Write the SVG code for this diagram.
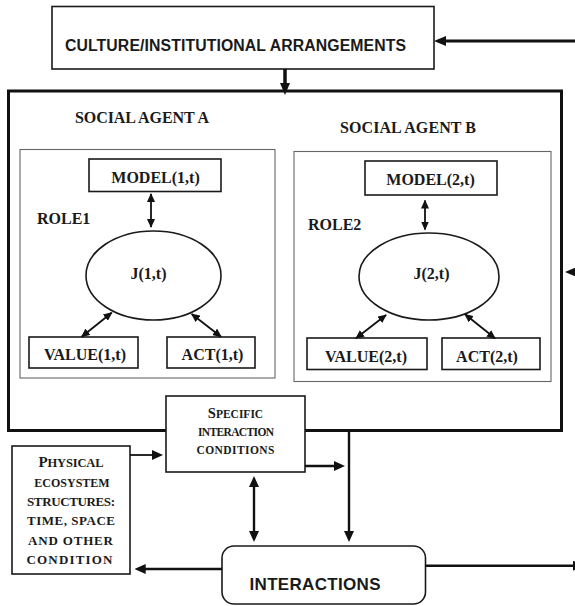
<svg xmlns="http://www.w3.org/2000/svg" width="575" height="606" viewBox="0 0 575 606">
  <style>
    .box { fill: #fff; stroke: #1a1a1a; stroke-width: 1.6; }
    .inner { fill: none; stroke: #666; stroke-width: 1.1; }
    .ell { fill: #fff; stroke: #1a1a1a; stroke-width: 1.6; }
    .serif { font-family: "Liberation Serif", "Times New Roman", serif; font-weight: bold; fill: #1a1a1a; }
    .sans { font-family: "Liberation Sans", Arial, sans-serif; font-weight: bold; fill: #1a1a1a; }
    .lbl { font-size: 16px; }
    .sc { font-size: 13px; }
    .wire { fill: none; stroke: #111; }
    .thin { stroke-width: 1.8; }
    .mid { stroke-width: 2.4; }
    .thick { stroke-width: 3; }
  </style>
  <defs>
    <marker id="big" viewBox="0 0 12 10" markerWidth="12" markerHeight="10" refX="8" refY="5" orient="auto-start-reverse" markerUnits="userSpaceOnUse">
      <path d="M0,0 L12,5 L0,10 z" fill="#111"/>
    </marker>
    <marker id="med" viewBox="0 0 11 10" markerWidth="11" markerHeight="10" refX="7" refY="5" orient="auto-start-reverse" markerUnits="userSpaceOnUse">
      <path d="M0,0 L11,5 L0,10 z" fill="#111"/>
    </marker>
    <marker id="small" viewBox="0 0 9 8" markerWidth="9" markerHeight="8" refX="8" refY="4" orient="auto-start-reverse" markerUnits="userSpaceOnUse">
      <path d="M0,0 L9,4 L0,8 z" fill="#111"/>
    </marker>
  </defs>

  <!-- outer frame holding both social agents -->
  <g id="agents-frame">
    <rect x="8.5" y="91" width="553" height="339.5" fill="none" stroke="#111" stroke-width="3"/>
  </g>

  <g id="culture">
    <rect class="box" x="52" y="6.5" width="382" height="62.5"/>
    <text class="sans" x="65" y="50.5" font-size="15.8" textLength="341">CULTURE/INSTITUTIONAL ARRANGEMENTS</text>
  </g>

  <g id="agent-a">
    <text class="serif lbl" x="75" y="123.3" textLength="134">SOCIAL AGENT A</text>
    <rect class="inner" x="20" y="149.5" width="255" height="228.5"/>
    <text class="serif lbl" x="37" y="223.5">ROLE1</text>
  </g>
  <g id="model-1">
    <rect class="box" x="89" y="159" width="132" height="32.5"/>
    <text class="serif lbl" x="155.5" y="183" text-anchor="middle">MODEL(1,t)</text>
  </g>
  <g id="j-1">
    <ellipse class="ell" cx="153.5" cy="275.5" rx="67.5" ry="44.5"/>
    <text class="serif lbl" x="148.5" y="278.5" text-anchor="middle">J(1,t)</text>
  </g>
  <g id="value-1">
    <rect class="box" x="29" y="337" width="109" height="31"/>
    <text class="serif lbl" x="85" y="360" text-anchor="middle">VALUE(1,t)</text>
  </g>
  <g id="act-1">
    <rect class="box" x="167" y="337" width="88" height="31"/>
    <text class="serif lbl" x="212.5" y="360" text-anchor="middle">ACT(1,t)</text>
  </g>

  <g id="agent-b">
    <text class="serif lbl" x="340" y="132.7" textLength="136">SOCIAL AGENT B</text>
    <rect class="inner" x="294" y="151.5" width="257" height="230"/>
    <text class="serif lbl" x="308" y="230">ROLE2</text>
  </g>
  <g id="model-2">
    <rect class="box" x="365" y="161" width="132" height="34"/>
    <text class="serif lbl" x="430.5" y="185" text-anchor="middle">MODEL(2,t)</text>
  </g>
  <g id="j-2">
    <ellipse class="ell" cx="429" cy="276.5" rx="70" ry="43.5"/>
    <text class="serif lbl" x="431.5" y="278.5" text-anchor="middle">J(2,t)</text>
  </g>
  <g id="value-2">
    <rect class="box" x="307" y="338" width="120" height="31.5"/>
    <text class="serif lbl" x="366" y="362" text-anchor="middle">VALUE(2,t)</text>
  </g>
  <g id="act-2">
    <rect class="box" x="442" y="338" width="98" height="31.5"/>
    <text class="serif lbl" x="487" y="362" text-anchor="middle">ACT(2,t)</text>
  </g>

  <g id="specific-conditions">
    <rect class="box" x="166" y="396" width="139" height="76" stroke-width="2"/>
    <text class="serif" x="235.5" y="417.5" text-anchor="middle" font-size="11.5"><tspan font-size="14.5">S</tspan>PECIFIC</text>
    <text class="serif" x="236" y="436" text-anchor="middle" font-size="11.5" textLength="76">INTERACTION</text>
    <text class="serif" x="235.5" y="454" text-anchor="middle" font-size="11.5" textLength="78">CONDITIONS</text>
  </g>

  <g id="physical-structures">
    <rect class="box" x="12" y="446" width="118" height="128"/>
    <text class="serif" x="71" y="467" text-anchor="middle" font-size="12.5" textLength="65"><tspan font-size="15">P</tspan>HYSICAL</text>
    <text class="serif" x="72" y="487" text-anchor="middle" font-size="12">ECOSYSTEM</text>
    <text class="serif sc" x="71" y="506" text-anchor="middle" textLength="88">STRUCTURES:</text>
    <text class="serif sc" x="71" y="525" text-anchor="middle" textLength="88">TIME, SPACE</text>
    <text class="serif sc" x="70.5" y="545" text-anchor="middle" textLength="85">AND OTHER</text>
    <text class="serif sc" x="69.5" y="564" text-anchor="middle" textLength="86">CONDITION</text>
  </g>

  <g id="interactions">
    <rect class="box" x="222" y="546" width="203.5" height="58" rx="12" stroke-width="1.5"/>
    <text class="sans" x="249.5" y="590" font-size="17" textLength="131">INTERACTIONS</text>
  </g>

  <g id="connectors">
    <!-- feedback into culture box -->
    <path class="wire thick" d="M580 41 H438" marker-end="url(#big)"/>
    <!-- culture down into the agents -->
    <path class="wire" stroke-width="3.5" d="M285 69 V91" marker-end="url(#big)"/>
    <!-- feedback into the agents frame -->
    <path class="wire thick" d="M590 272 H569" marker-end="url(#big)"/>

    <!-- agent A internal links -->
    <path class="wire thin" d="M151 194 V227" marker-start="url(#small)" marker-end="url(#small)"/>
    <path class="wire thin" d="M81.7 336.7 L111.7 312.7" marker-start="url(#small)" marker-end="url(#small)"/>
    <path class="wire thin" d="M191.7 314 L221 336.7" marker-start="url(#small)" marker-end="url(#small)"/>

    <!-- agent B internal links -->
    <path class="wire thin" d="M425 200.5 V229.5" marker-start="url(#small)" marker-end="url(#small)"/>
    <path class="wire thin" d="M356 338.3 L386 315" marker-start="url(#small)" marker-end="url(#small)"/>
    <path class="wire thin" d="M465 314.3 L495 338.3" marker-start="url(#small)" marker-end="url(#small)"/>

    <!-- physical structures feed specific conditions -->
    <path class="wire thin" d="M130 455 H159" marker-end="url(#med)"/>
    <!-- specific conditions to the agents-to-interactions line -->
    <path class="wire mid" d="M305 466 H341" marker-end="url(#med)"/>
    <!-- agents down to interactions -->
    <path class="wire mid" d="M349 430 V538" marker-end="url(#med)"/>
    <!-- specific conditions and interactions -->
    <path class="wire mid" d="M254 480 V538" marker-start="url(#med)" marker-end="url(#med)"/>
    <!-- interactions back to physical structures -->
    <path class="wire mid" d="M222 569 H138.7" marker-end="url(#med)"/>
    <!-- interactions outward -->
    <path class="wire mid" d="M425.5 565.7 H580" marker-end="url(#med)"/>
  </g>
</svg>
